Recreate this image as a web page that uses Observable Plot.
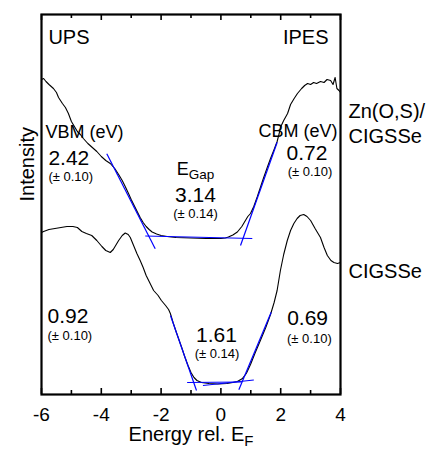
<!DOCTYPE html>
<html><head><meta charset="utf-8">
<script src="https://cdn.jsdelivr.net/npm/d3@7"></script>
<script src="https://cdn.jsdelivr.net/npm/@observablehq/plot@0.6"></script>
<style>html,body{margin:0;padding:0;background:#fff;}</style>
</head><body><div id="chart"></div>
<script>
// ---- data (energy rel. E_F in eV, intensity in arbitrary units) ----
const sampleNames = ["Zn(O,S)/\nCIGSSe", "CIGSSe"];

const znosSpectrum = [
  [-6.0,315],[-5.93,316],[-5.85,313],[-5.75,310],[-5.6,306],[-5.5,302],[-5.43,297],[-5.3,291],
  [-5.2,287],[-5.1,281],[-5.0,273],[-4.9,268],[-4.8,263],[-4.7,260],[-4.6,256],[-4.45,251],
  [-4.3,247],[-4.15,243],[-4.0,238],[-3.85,234],[-3.7,231],[-3.55,226],[-3.42,220],[-3.3,214],
  [-3.2,208],[-3.09,201],[-3.0,195],[-2.9,189],[-2.8,183],[-2.7,177],[-2.6,172],[-2.5,168],
  [-2.4,165],[-2.3,162.5],[-2.15,160.5],[-2.0,159],[-1.8,158],[-1.5,157],[-1.0,156.5],[-0.5,156],
  [0.0,156],[0.15,156.5],[0.25,157.5],[0.4,159.5],[0.55,162.5],[0.7,168],[0.82,174],[0.9,178],
  [0.99,181],[1.1,188],[1.22,198],[1.32,207],[1.42,216],[1.55,227],[1.66,236],[1.78,245],
  [1.88,253],[1.95,261],[1.99,267],[2.1,274],[2.23,281],[2.33,290],[2.45,296],[2.56,301],
  [2.7,306],[2.8,309],[2.9,311],[3.0,310],[3.1,312],[3.2,311],[3.33,313],[3.45,312],
  [3.55,315],[3.67,314],[3.75,310],[3.82,317],[3.88,306],[3.95,304],[4.0,302]
];

const cigsseSpectrum = [
  [-6.0,162],[-5.93,163],[-5.75,165],[-5.55,166],[-5.35,167],[-5.15,168],[-4.95,168],[-4.8,167],
  [-4.65,163],[-4.5,161],[-4.32,159],[-4.15,154],[-3.98,148],[-3.85,144],[-3.7,142],[-3.6,145],
  [-3.5,150],[-3.42,154],[-3.3,159],[-3.2,161.5],[-3.1,160],[-3.03,157],[-2.92,149],[-2.81,141],
  [-2.7,134],[-2.6,127],[-2.5,119],[-2.4,113],[-2.25,104],[-2.1,99],[-1.99,94],[-1.85,89],
  [-1.75,85],[-1.69,81],[-1.6,72],[-1.5,63],[-1.4,54.5],[-1.3,46],[-1.2,37],[-1.1,29],
  [-1.0,22],[-0.9,17],[-0.8,14],[-0.65,12],[-0.4,11],[-0.1,10.5],[0.2,11],[0.4,12],
  [0.55,13],[0.71,15.7],[0.85,21],[0.99,30],[1.15,42],[1.32,54],[1.5,67],[1.66,80],
  [1.78,92],[1.88,104],[1.99,124],[2.1,140],[2.22,154],[2.33,164],[2.44,171],[2.55,176],
  [2.65,179],[2.77,180],[2.88,178],[3.0,174],[3.15,166],[3.33,157],[3.45,147],[3.56,139],
  [3.68,134],[3.78,132],[3.9,131],[4.0,132]
];

// linear fits (edge extrapolations and baselines)
const fitLines = [
  {x1:-3.816, y1:240.7, x2:-2.197, y2:145.7},
  {x1:-2.53,  y1:158.5, x2:1.05,   y2:156.0},
  {x1:0.656,  y1:149.0, x2:1.883,  y2:252.3},
  {x1:-1.686, y1:79.0,  x2:-0.816, y2:4.0},
  {x1:-1.13,  y1:12.0,  x2:0.70,   y2:12.5},
  {x1:-0.60,  y1:9.0,   x2:1.10,   y2:14.5},
  {x1:0.60,   y1:4.7,   x2:1.682,  y2:82.3}
];

const vbmValues = ["2.42", "0.92"];
const cbmValues = ["0.72", "0.69"];
const gapValues = ["3.14", "1.61"];
const edgeError = "(± 0.10)";
const gapError = "(± 0.14)";

const tickValues = [-6, -4, -2, 0, 2, 4];
const tickLabels = ["-6", "-4", "-2", "0", "2", "4"];
const minorTicks = [-5, -3, -1, 1, 3];

// ---- annotations ----
const notes = [
  {t:"UPS", x:-5.77, y:351, a:"start", s:20},
  {t:"IPES", x:3.6, y:351, a:"end", s:20},
  {t:"VBM (eV)", x:-5.87, y:257, a:"start", s:18},
  {t:vbmValues[0], x:-5.77, y:230, a:"start", s:21},
  {t:edgeError, x:-5.77, y:214, a:"start", s:13},
  {t:"E_{Gap}", x:-0.85, y:220, a:"middle", s:18},
  {t:gapValues[0], x:-0.85, y:193, a:"middle", s:21},
  {t:gapError, x:-0.85, y:177, a:"middle", s:13},
  {t:"CBM (eV)", x:3.9, y:258, a:"end", s:18},
  {t:cbmValues[0], x:2.88, y:235, a:"middle", s:21},
  {t:edgeError, x:2.98, y:219, a:"middle", s:13},
  {t:vbmValues[1], x:-5.8, y:72, a:"start", s:21},
  {t:edgeError, x:-5.8, y:55, a:"start", s:13},
  {t:gapValues[1], x:-0.15, y:53, a:"middle", s:21},
  {t:gapError, x:-0.13, y:37, a:"middle", s:13},
  {t:cbmValues[1], x:2.9, y:70, a:"middle", s:21},
  {t:edgeError, x:2.96, y:52, a:"middle", s:13}
];
const sideLabels = [
  {t:sampleNames[0], x:4, y:252},
  {t:sampleNames[1], x:4, y:117}
];

const noteMark = (anchor) => Plot.text(notes.filter(d => d.a === anchor), {
  x:"x", y:"y", text:"t", fontSize:"s", textAnchor:anchor, lineAnchor:"bottom", fill:"black"
});

const chart = Plot.plot({
  width: 429,
  height: 449,
  marginLeft: 41,
  marginRight: 89,
  marginTop: 14,
  marginBottom: 55,
  style: {fontFamily: "'Liberation Sans', Arial, Helvetica, sans-serif", background: "#fff"},
  x: {domain: [-6, 4], axis: null},
  y: {domain: [0, 380], axis: null},
  marks: [
    Plot.line(znosSpectrum, {x: d => d[0], y: d => d[1], stroke: "black", strokeWidth: 1.1}),
    Plot.line(cigsseSpectrum, {x: d => d[0], y: d => d[1], stroke: "black", strokeWidth: 1.1}),
    Plot.link(fitLines, {x1:"x1", y1:"y1", x2:"x2", y2:"y2", stroke:"#0000ff", strokeWidth:1.2}),
    // inward ticks, bottom and top
    Plot.ruleX(tickValues, {x: d => d, insetTop: 374, stroke: "black", strokeWidth: 1.6}),
    Plot.ruleX(minorTicks, {x: d => d, insetTop: 376, stroke: "black", strokeWidth: 1.6}),
    Plot.ruleX(tickValues, {x: d => d, insetBottom: 374, stroke: "black", strokeWidth: 1.6}),
    Plot.ruleX(minorTicks, {x: d => d, insetBottom: 376, stroke: "black", strokeWidth: 1.6}),
    Plot.frame({stroke: "black", strokeWidth: 2.2}),
    // tick labels
    Plot.text(tickValues, {x: d => d, text: (d, i) => tickLabels[i], frameAnchor: "bottom",
      dy: 26, lineAnchor: "bottom", fontSize: 19, fill: "black"}),
    // axis labels
    Plot.text(["Energy rel. E_{F}"], {text: d => d, frameAnchor: "bottom", dy: 46,
      lineAnchor: "bottom", fontSize: 20, fill: "black"}),
    Plot.text(["Intensity"], {text: d => d, frameAnchor: "left", rotate: -90, dx: -8, dy: -3,
      lineAnchor: "bottom", fontSize: 20, fill: "black"}),
    noteMark("start"),
    noteMark("middle"),
    noteMark("end"),
    Plot.text(sideLabels, {x:"x", y:"y", text:"t", dx: 8, textAnchor:"start", lineAnchor:"bottom",
      lineHeight: 1.25, fontSize: 20, fill:"black"})
  ]
});

// subscripts: "A_{b}" -> A<tspan>b</tspan>
d3.select(chart).selectAll("text").each(function() {
  const el = this;
  if (el.children.length) return;
  const s = el.textContent;
  const m = s.match(/^(.*)_\{(.*)\}(.*)$/);
  if (!m) return;
  el.textContent = m[1];
  const sub = document.createElementNS("http://www.w3.org/2000/svg", "tspan");
  sub.setAttribute("font-size", "0.75em");
  sub.setAttribute("dy", "0.35em");
  sub.textContent = m[2];
  el.appendChild(sub);
});

document.getElementById("chart").appendChild(chart);
</script>
</body></html>
